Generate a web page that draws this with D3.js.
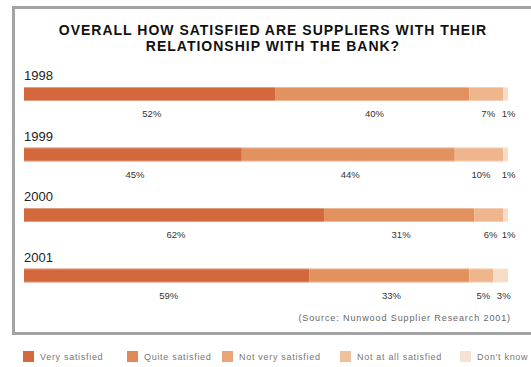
<!DOCTYPE html>
<html>
<head>
<meta charset="utf-8">
<script src="https://cdn.jsdelivr.net/npm/d3@7"></script>
<style>
  body { margin: 0; background: #fff; }
  svg { display: block; font-family: "Liberation Sans", Arial, sans-serif; }
</style>
</head>
<body>
<svg id="chart"></svg>
<script>
const years = ["1998", "1999", "2000", "2001"];
const categories = ["Very satisfied", "Quite satisfied", "Not very satisfied", "Not at all satisfied", "Don't know"];
// share of each answer per year (%), bar segments in order
const verySatisfied = [52, 45, 62, 59];
const quiteSatisfied = [40, 44, 31, 33];
const notVerySatisfied = [7, 10, 6, 5];
const notAtAllSatisfied = [1, 1, 1, 3];
const titleLines = ["OVERALL HOW SATISFIED ARE SUPPLIERS WITH THEIR", "RELATIONSHIP WITH THE BANK?"];
const sourceText = "(Source: Nunwood Supplier Research 2001)";

const width = 531;
const height = 367;
const margin = {top: 87, right: 23, bottom: 84, left: 24};

const svg = d3.select("#chart").attr("width", width).attr("height", height);

const barColors = ["#d3683c", "#e2925f", "#efb68e", "#f5dcc6"];
const legendColors = ["#d5683c", "#e0895a", "#e9a47a", "#f0c09a", "#f6e1d2"];

const rows = years.map((y, i) => ({
  year: y,
  values: [verySatisfied[i], quiteSatisfied[i], notVerySatisfied[i], notAtAllSatisfied[i]]
}));

const x = d3.scaleLinear().domain([0, 100]).range([margin.left, width - margin.right]);

const y = d3
  .scaleBand()
  .domain(years)
  .range([margin.top, margin.top + 4 * 60.5])
  .paddingInner(0);

const barH = 14;

// frame
svg
  .append("rect")
  .attr("x", 13.5)
  .attr("y", 7.5)
  .attr("width", 540)
  .attr("height", 326)
  .attr("fill", "none")
  .attr("stroke", "#a3a3a3")
  .attr("stroke-width", 3);

// title
svg
  .selectAll(".title")
  .data(titleLines)
  .enter()
  .append("text")
  .attr("x", 273)
  .attr("y", (d, i) => 35 + i * 16)
  .attr("text-anchor", "middle")
  .attr("font-size", "14px")
  .attr("font-weight", "bold")
  .attr("letter-spacing", "1px")
  .attr("fill", "#111")
  .text((d) => d);

const row = svg
  .selectAll(".row")
  .data(rows)
  .enter()
  .append("g")
  .attr("class", "row")
  .attr("transform", (d) => `translate(0,${y(d.year)})`);

row
  .append("text")
  .attr("x", margin.left)
  .attr("y", -7)
  .attr("font-size", "13px")
  .attr("fill", "#222")
  .text((d) => d.year);

row.each(function (d) {
  const g = d3.select(this);
  let acc = 0;
  const segs = d.values.map((v, i) => {
    const s = {start: acc, end: acc + v, v: v, i: i};
    acc += v;
    return s;
  });

  g.selectAll("rect")
    .data(segs)
    .enter()
    .append("rect")
    .attr("x", (s) => x(s.start))
    .attr("y", 0)
    .attr("width", (s) => x(s.end) - x(s.start))
    .attr("height", barH)
    .attr("fill", (s) => barColors[s.i]);

  // light edge on top and bottom of bar
  g.append("line")
    .attr("x1", x(0)).attr("x2", x(acc))
    .attr("y1", 0.5).attr("y2", 0.5)
    .attr("stroke", "#fff").attr("stroke-opacity", 0.35);
  g.append("line")
    .attr("x1", x(0)).attr("x2", x(acc))
    .attr("y1", barH - 0.5).attr("y2", barH - 0.5)
    .attr("stroke", "#fff").attr("stroke-opacity", 0.35);

  g.selectAll(".val")
    .data(segs)
    .enter()
    .append("text")
    .attr("class", "val")
    .attr("x", (s) => (x(s.start) + x(s.end)) / 2 + (s.i === 3 ? 3 : 2))
    .attr("y", barH + 16)
    .attr("text-anchor", "middle")
    .attr("font-size", "9.5px")
    .attr("fill", "#333")
    .text((s) => s.v + "%");
});

// source
svg
  .append("text")
  .attr("x", 511)
  .attr("y", 321)
  .attr("text-anchor", "end")
  .attr("font-size", "9px")
  .attr("letter-spacing", "0.9px")
  .attr("fill", "#666")
  .text(sourceText);

// legend
const legendX = [23, 127, 222, 340, 460];
const leg = svg
  .selectAll(".legend")
  .data(categories)
  .enter()
  .append("g")
  .attr("class", "legend")
  .attr("transform", (d, i) => `translate(${legendX[i]},351)`);

leg
  .append("rect")
  .attr("width", 11)
  .attr("height", 11)
  .attr("fill", (d, i) => legendColors[i]);

leg
  .append("text")
  .attr("x", 17)
  .attr("y", 9)
  .attr("font-size", "9px")
  .attr("letter-spacing", "0.7px")
  .attr("fill", "#777")
  .text((d) => d);
</script>
</body>
</html>
